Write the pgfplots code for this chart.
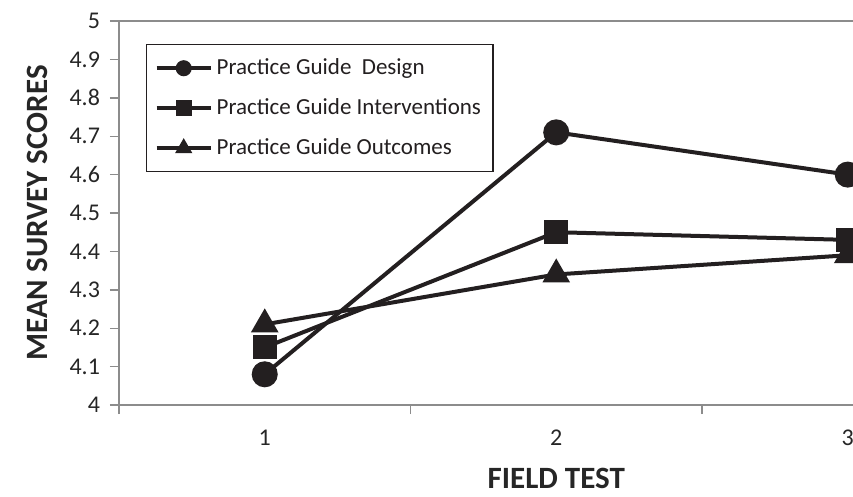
\documentclass[border=0pt]{standalone}
\usepackage{pgfplots}
\pgfplotsset{compat=1.18}
\usepackage{fontspec}
\setmainfont{Carlito}
\definecolor{ink}{HTML}{231F20}
\definecolor{axisgray}{HTML}{8C8C8C}
\definecolor{labelgray}{HTML}{262626}

\begin{document}
\begin{tikzpicture}
\begin{axis}[
  scale only axis, width=437.25pt, height=192pt,
  xmin=0.5, xmax=3.5, ymin=4, ymax=5,
  ytick={4,4.1,4.2,4.3,4.4,4.5,4.6,4.7,4.8,4.9,5},
  xtick={0.5,1.5,2.5,3.5}, xticklabels={},
  extra x ticks={1,2,3}, extra x tick labels={1,2,3},
  extra x tick style={major tick length=0pt, xticklabel style={yshift=-9pt}},
  tick pos=left, tick align=outside, major tick length=4.5pt,
  axis line style={axisgray, line width=0.7pt},
  tick style={axisgray, line width=0.7pt},
  /pgf/number format/assume math mode=true,
  tick label style={font=\fontsize{12}{14}\selectfont, text=labelgray},
  yticklabel style={xshift=-1.5pt},
  ylabel={\bfseries MEAN SURVEY SCORES},
  xlabel={\bfseries FIELD TEST},
  label style={font=\fontsize{15.5}{18}\selectfont, text=labelgray},
  ylabel style={yshift=4pt},
  xlabel style={yshift=0pt},
  legend style={at={(0.0309,0.940)}, anchor=north west,
    draw=ink, line width=0.7pt, font=\fontsize{11.5}{13}\selectfont,
    row sep=6.5pt, inner xsep=4pt, inner ysep=5pt, text=ink},
  legend cell align=left,
  legend image code/.code={%
    \draw[mark repeat=2, mark phase=2, #1]
      plot coordinates {(0pt,0pt) (13.5pt,0pt) (27pt,0pt)};},
  every legend image post/.style={mark size=3pt},
]
\addplot[ink, line width=2pt, mark=*, mark size=5.5pt, mark options={solid, fill=ink}]
  coordinates {(1,4.08) (2,4.71) (3,4.60)};
\addlegendentry{Practice Guide\ \ Design}
\addplot[ink, line width=2pt, mark=square*, mark size=5pt, mark options={solid, fill=ink}]
  coordinates {(1,4.15) (2,4.45) (3,4.43)};
\addlegendentry{Practice Guide Interventions}
\addplot[ink, line width=2pt, mark=triangle*, mark size=6pt, mark options={solid, fill=ink}]
  coordinates {(1,4.21) (2,4.34) (3,4.39)};
\addlegendentry{Practice Guide Outcomes}
\coordinate (bbsw) at (axis cs:0.0918,3.763);
\coordinate (bbne) at (axis cs:3.018,5.0547);
\end{axis}
\pgfresetboundingbox
\useasboundingbox (bbsw) rectangle (bbne);
\end{tikzpicture}
\end{document}
